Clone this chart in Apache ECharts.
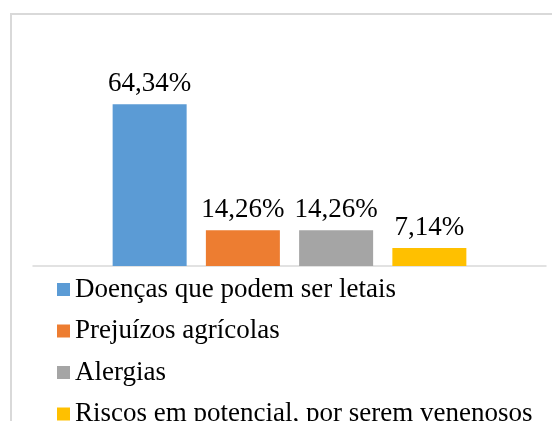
<!DOCTYPE html>
<html>
<head>
<meta charset="utf-8">
<script src="https://cdn.jsdelivr.net/npm/echarts@6/dist/echarts.min.js"></script>
<style>
  html, body { margin: 0; padding: 0; background: #fff; }
  #chart { width: 552px; height: 421px; }
</style>
</head>
<body>
<div id="chart"></div>
<script>
// one category, four series (as in the original spreadsheet chart)
var categories = [""];
var seriesNames = [
  "Doenças que podem ser letais",
  "Prejuízos agrícolas",
  "Alergias",
  "Riscos em potencial, por serem venenosos"
];
var seriesValues = [64.34, 14.26, 14.26, 7.14];
var palette = ["#5b9bd5", "#ed7d31", "#a5a5a5", "#ffc000"];

var serif = "Liberation Serif";

function pct(v) {
  return v.toFixed(2).replace(".", ",") + "%";
}

var myChart = echarts.init(document.getElementById("chart"));

var series = seriesNames.map(function (name, i) {
  return {
    name: name,
    type: "bar",
    data: [seriesValues[i]],
    barWidth: 74,
    barGap: "26%",
    itemStyle: { color: palette[i] },
    label: {
      show: true,
      position: "top",
      distance: 7,
      color: "#000",
      fontFamily: serif,
      fontSize: 27,
      formatter: function (p) {
        return pct(p.value);
      }
    }
  };
});

myChart.setOption({
  animation: false,
  color: palette,
  graphic: [
    {
      type: "rect",
      shape: { x: 11, y: 14, width: 600, height: 500 },
      style: { fill: "none", stroke: "#d9d9d9", lineWidth: 2 },
      silent: true,
      z: -10
    }
  ],
  grid: {
    left: 33,
    right: 6,
    top: 90,
    bottom: 155
  },
  legend: {
    orient: "vertical",
    left: 57,
    top: 276,
    height: 220,
    padding: 0,
    itemWidth: 13,
    itemHeight: 13,
    itemGap: 14.5,
    icon: "rect",
    data: seriesNames,
    textStyle: {
      color: "#000",
      fontFamily: serif,
      fontSize: 27
    }
  },
  xAxis: {
    type: "category",
    data: categories,
    axisLine: { lineStyle: { color: "#d9d9d9", width: 1.5 } },
    axisTick: { show: false },
    axisLabel: { show: false }
  },
  yAxis: {
    type: "value",
    min: 0,
    max: 70,
    show: false,
    splitLine: { show: false }
  },
  series: series
});
</script>
</body>
</html>
